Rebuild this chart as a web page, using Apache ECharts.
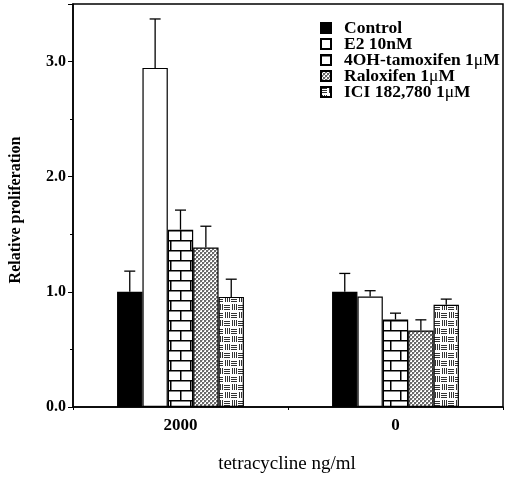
<!DOCTYPE html>
<html>
<head>
<meta charset="utf-8">
<script src="https://cdn.jsdelivr.net/npm/echarts@6/dist/echarts.min.js"></script>
<style>html,body{margin:0;padding:0;background:#fff}#c{width:508px;height:478px}</style>
</head>
<body>
<div id="c"></div>
<script>
const categories = ['2000', '0'];
const seriesNames = ['Control', 'E2 10nM', '4OH-tamoxifen 1μM', 'Raloxifen 1μM', 'ICI 182,780 1μM'];
const control = [1.0, 1.0];
const controlErr = [1.18, 1.16];
const e2 = [2.945, 0.96];
const e2Err = [3.37, 1.01];
const tamoxifen = [1.54, 0.76];
const tamoxifenErr = [1.71, 0.815];
const raloxifen = [1.385, 0.665];
const raloxifenErr = [1.57, 0.757];
const ici = [0.956, 0.887];
const iciErr = [1.11, 0.937];
const yTicks = [0, 1, 2, 3];

const FONT = "'Liberation Serif', 'Times New Roman', serif";

function mk(w, h, draw) {
  const c = document.createElement('canvas');
  c.width = w; c.height = h;
  const ctx = c.getContext('2d');
  ctx.fillStyle = '#fff'; ctx.fillRect(0, 0, w, h);
  draw(ctx);
  return c;
}
const brick = mk(20, 20, ctx => {
  ctx.fillStyle = '#000';
  ctx.fillRect(0, 0, 20, 1.5);
  ctx.fillRect(0, 10, 20, 1.5);
  ctx.fillRect(10, 0, 1.5, 10);
  ctx.fillRect(0, 10, 1.5, 10);
});
const checker = mk(4, 4, ctx => {
  ctx.fillStyle = '#6a6a6a';
  ctx.fillRect(0, 0, 2, 2);
  ctx.fillRect(2, 2, 2, 2);
  ctx.fillStyle = '#bbb';
  ctx.fillRect(2, 0, 1, 1);
  ctx.fillRect(0, 2, 1, 1);
});
const basket = mk(14, 16, ctx => {
  ctx.fillStyle = '#333';
  for (let k = 0; k < 3; k++) {
    ctx.fillRect(0, 1 + 2 * k, 6, 1);
    ctx.fillRect(8 + 2 * k, 0, 1, 6);
    ctx.fillRect(1 + 2 * k, 8, 1, 6);
    ctx.fillRect(7, 9 + 2 * k, 6, 1);
  }
});

const fills = [
  '#000',
  '#fff',
  { image: brick, repeat: 'repeat' },
  { image: checker, repeat: 'repeat' },
  { image: basket, repeat: 'repeat' }
];
const values = [control, e2, tamoxifen, raloxifen, ici];
const errs = [controlErr, e2Err, tamoxifenErr, raloxifenErr, iciErr];
const CAT_GAP = 0.41;

const series = [];
values.forEach((v, i) => {
  series.push({
    name: seriesNames[i],
    type: 'bar',
    data: v,
    barGap: '0%',
    barCategoryGap: (CAT_GAP * 100) + '%',
    itemStyle: { color: fills[i], borderColor: '#000', borderWidth: 1.2 },
    emphasis: { disabled: true },
    z: 2
  });
});
values.forEach((v, i) => {
  series.push({
    type: 'custom',
    data: v.map((val, j) => [j, val, errs[i][j]]),
    renderItem: function (params, api) {
      const cat = api.value(0);
      const base = api.coord([cat, api.value(1)]);
      const top = api.coord([cat, api.value(2)]);
      const band = api.size([1, 0])[0];
      const bw = band * (1 - CAT_GAP) / 5;
      const x = base[0] + (i - 2) * bw;
      const cap = 5.5;
      const st = { stroke: '#000', lineWidth: 1.3 };
      return {
        type: 'group',
        children: [
          { type: 'line', shape: { x1: x, y1: base[1], x2: x, y2: top[1] }, style: st },
          { type: 'line', shape: { x1: x - cap, y1: top[1], x2: x + cap, y2: top[1] }, style: st }
        ]
      };
    },
    z: 3,
    silent: true
  });
});

const chart = echarts.init(document.getElementById('c'), null, { renderer: 'canvas' });
chart.setOption({
  animation: false,
  backgroundColor: '#fff',
  textStyle: { fontFamily: FONT },
  grid: { left: 73, right: 5, top: 4, bottom: 71, show: true, borderColor: '#000', borderWidth: 1.5, backgroundColor: 'transparent' },
  legend: {
    data: seriesNames,
    orient: 'vertical',
    left: 315,
    top: 14,
    icon: 'rect',
    itemWidth: 10,
    itemHeight: 10,
    itemGap: -2,
    selectedMode: false,
    textStyle: {
      fontFamily: FONT, fontWeight: 'bold', fontSize: 17.5, color: '#000',
      padding: [0, 0, 0, 8],
      rich: { u: { fontFamily: FONT, fontWeight: 'normal', fontSize: 17.5, color: '#000' } }
    },
    formatter: name => name.replace('μ', '{u|μ}')
  },
  xAxis: {
    type: 'category',
    data: categories,
    axisLine: { lineStyle: { color: '#000', width: 1.5 } },
    axisTick: { show: true, length: 3, lineStyle: { color: '#000', width: 1 } },
    axisLabel: { color: '#000', fontWeight: 'bold', fontSize: 17, fontFamily: FONT, margin: 10 },
    splitLine: { show: false }
  },
  yAxis: {
    type: 'value',
    min: 0, max: 3.5, interval: 1,
    axisLine: { show: true, lineStyle: { color: '#000', width: 1.5 } },
    axisTick: { show: true, length: 5, lineStyle: { color: '#000', width: 1 } },
    minorTick: { show: true, splitNumber: 2, length: 3, lineStyle: { color: '#000', width: 1 } },
    axisLabel: {
      color: '#000', fontWeight: 'bold', fontSize: 16, fontFamily: FONT, margin: 7,
      formatter: v => yTicks.indexOf(v) >= 0 ? v.toFixed(1) : ''
    },
    splitLine: { show: false }
  },
  graphic: [
    { type: 'text', x: 16, y: 210, rotation: Math.PI / 2,
      style: { text: 'Relative proliferation', fontFamily: FONT, fontWeight: 'bold', fontSize: 16, fill: '#000', align: 'center', verticalAlign: 'middle' } },
    { type: 'text', x: 287, y: 464,
      style: { text: 'tetracycline ng/ml', fontFamily: FONT, fontSize: 19, fill: '#000', align: 'center', verticalAlign: 'middle' } }
  ],
  series: series
});
</script>
</body>
</html>
